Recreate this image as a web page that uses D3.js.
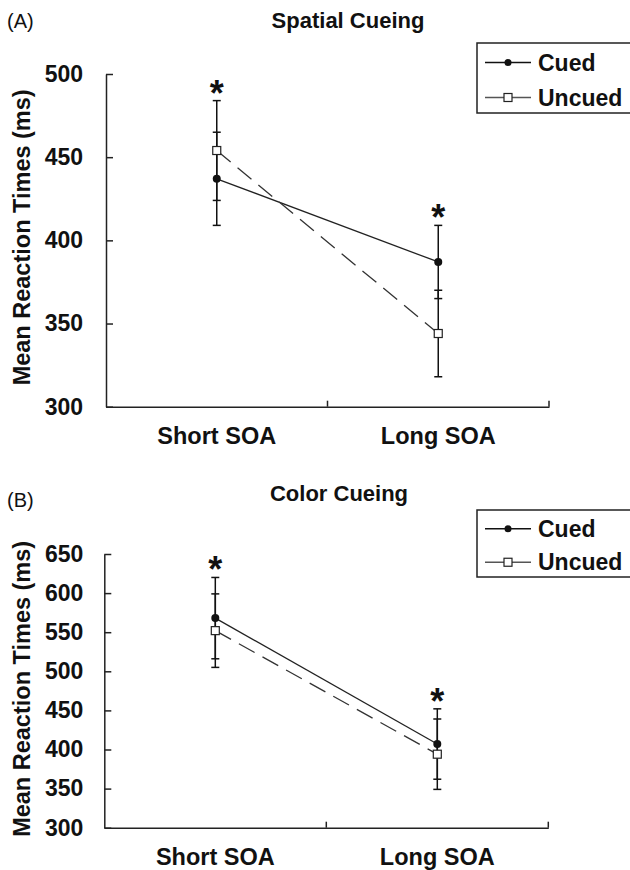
<!DOCTYPE html>
<html>
<head>
<meta charset="utf-8">
<script src="https://cdn.jsdelivr.net/npm/d3@7"></script>
<style>
  body { margin: 0; background: #fff; }
  text { font-family: "Liberation Sans", Arial, sans-serif; fill: #111; }
</style>
</head>
<body>
<div id="chart"></div>
<script>
const WIDTH = 630
const HEIGHT = 870

// values
const conditions = ["Short SOA", "Long SOA"]
const seriesNames = ["Cued", "Uncued"]

const spatialCued = [437, 387]
const spatialCuedErr = [28, 22]
const spatialUncued = [454, 344]
const spatialUncuedErr = [30, 26]
const spatialTicks = [300, 350, 400, 450, 500]

const colorCued = [568, 407]
const colorCuedErr = [52, 45]
const colorUncued = [552, 394]
const colorUncuedErr = [47, 45]
const colorTicks = [300, 350, 400, 450, 500, 550, 600, 650]

const significant = [true, true]

const svg = d3.select('#chart').append('svg')
    .attr('width', WIDTH).attr('height', HEIGHT)
svg.append('rect').attr('width', WIDTH).attr('height', HEIGHT).attr('fill', '#fff')

drawPanel({
    letter: '(A)', title: 'Spatial Cueing', titleX: 348,
    cued: spatialCued, cuedErr: spatialCuedErr,
    uncued: spatialUncued, uncuedErr: spatialUncuedErr,
    ticks: spatialTicks,
    left: 106, right: 549, top: 74, bottom: 406.7, tickPad: 23,
    letterY: 28, titleY: 28, legendTop: 43, legendH: 70, labelY: 21
})

drawPanel({
    letter: '(B)', title: 'Color Cueing', titleX: 339,
    cued: colorCued, cuedErr: colorCuedErr,
    uncued: colorUncued, uncuedErr: colorUncuedErr,
    ticks: colorTicks,
    left: 104.3, right: 548.3, top: 554, bottom: 827.7, tickPad: 21,
    letterY: 507, titleY: 501, legendTop: 510, legendH: 67, labelY: 21
})

function drawPanel(cfg){
    const g = svg.append('g')

    const x = d3.scaleBand().domain(conditions).range([cfg.left, cfg.right]).padding(0)
    const y = d3.scaleLinear()
        .domain([d3.min(cfg.ticks), d3.max(cfg.ticks)])
        .range([cfg.bottom, cfg.top])
    const cx = c => x(c) + x.bandwidth() / 2

    // panel letter and title
    g.append('text').attr('x', 7).attr('y', cfg.letterY)
        .style('font-size', '20px').text(cfg.letter)
    g.append('text').attr('x', cfg.titleX).attr('y', cfg.titleY)
        .attr('text-anchor', 'middle')
        .style('font-size', '22px').style('font-weight', 'bold')
        .text(cfg.title)

    // y axis
    const yAxis = g.append('g')
        .attr('transform', `translate(${cfg.left},0)`)
        .call(d3.axisLeft(y).tickValues(cfg.ticks).tickSizeInner(-7).tickSizeOuter(0).tickPadding(cfg.tickPad))
    yAxis.selectAll('text')
        .style('font-size', '23px').style('font-weight', 'bold')
        .style('font-family', '"Liberation Sans", Arial, sans-serif').attr('fill', '#111')

    // x axis
    const xAxis = g.append('g')
        .attr('transform', `translate(0,${cfg.bottom})`)
        .call(d3.axisBottom(x).tickSize(0).tickSizeOuter(0).tickPadding(cfg.labelY))
    xAxis.selectAll('text')
        .style('font-size', '23.5px').style('font-weight', 'bold')
        .style('font-family', '"Liberation Sans", Arial, sans-serif').attr('fill', '#111')
    xAxis.selectAll('.bound')
        .data(conditions)
        .enter()
        .append('line')
        .attr('class', 'bound')
        .attr('x1', d => x(d) + x.bandwidth()).attr('x2', d => x(d) + x.bandwidth())
        .attr('y1', 0).attr('y2', -6)
        .attr('stroke', '#222')

    g.selectAll('.domain, .tick line').attr('stroke', '#222').attr('stroke-width', 1.5)
    xAxis.selectAll('.bound').attr('stroke-width', 1.5)

    // y axis title
    const midY = (cfg.top + cfg.bottom) / 2
    g.append('text')
        .attr('transform', `translate(30,${midY + (cfg.letter === '(A)' ? -3 : -2)}) rotate(-90)`)
        .attr('text-anchor', 'middle')
        .style('font-size', '23.5px').style('font-weight', 'bold')
        .text('Mean Reaction Times (ms)')

    // lines
    const line = d3.line().x((d, i) => cx(conditions[i])).y(d => y(d))
    g.append('path').datum(cfg.cued).attr('d', line)
        .attr('fill', 'none').attr('stroke', '#222').attr('stroke-width', 1.3)
    g.append('path').datum(cfg.uncued).attr('d', line)
        .attr('fill', 'none').attr('stroke', '#333').attr('stroke-width', 1.3)
        .attr('stroke-dasharray', '18,9')

    // error bars
    const bars = []
    conditions.forEach((c, i) => {
        bars.push({c, v: cfg.cued[i], e: cfg.cuedErr[i]})
        bars.push({c, v: cfg.uncued[i], e: cfg.uncuedErr[i]})
    })
    const eb = g.append('g').attr('stroke', '#111').attr('stroke-width', 1.5)
    eb.selectAll('.stem').data(bars).enter().append('line')
        .attr('x1', d => cx(d.c)).attr('x2', d => cx(d.c))
        .attr('y1', d => y(d.v - d.e)).attr('y2', d => y(d.v + d.e))
    eb.selectAll('.capTop').data(bars).enter().append('line')
        .attr('x1', d => cx(d.c) - 4).attr('x2', d => cx(d.c) + 4)
        .attr('y1', d => y(d.v + d.e)).attr('y2', d => y(d.v + d.e))
    eb.selectAll('.capBot').data(bars).enter().append('line')
        .attr('x1', d => cx(d.c) - 4).attr('x2', d => cx(d.c) + 4)
        .attr('y1', d => y(d.v - d.e)).attr('y2', d => y(d.v - d.e))

    // markers
    g.selectAll('.sq').data(cfg.uncued).enter().append('rect')
        .attr('x', (d, i) => cx(conditions[i]) - 4).attr('y', d => y(d) - 4)
        .attr('width', 8).attr('height', 8)
        .attr('fill', '#fff').attr('stroke', '#222').attr('stroke-width', 1.2)
    g.selectAll('.dot').data(cfg.cued).enter().append('circle')
        .attr('cx', (d, i) => cx(conditions[i])).attr('cy', d => y(d))
        .attr('r', 4).attr('fill', '#111')

    // significance stars above the highest error bar
    conditions.forEach((c, i) => {
        if(!significant[i]) return
        const topVal = Math.max(cfg.cued[i] + cfg.cuedErr[i], cfg.uncued[i] + cfg.uncuedErr[i])
        g.append('text')
            .attr('x', cx(c)).attr('y', y(topVal) + 5)
            .attr('text-anchor', 'middle')
            .style('font-size', '36px').style('font-weight', 'bold')
            .text('*')
    })

    // legend
    const lg = g.append('g').attr('transform', `translate(477,${cfg.legendTop})`)
    lg.append('rect').attr('x', 0).attr('y', 0).attr('width', 160).attr('height', cfg.legendH)
        .attr('fill', '#fff').attr('stroke', '#222').attr('stroke-width', 1.5)
    const rowH = cfg.legendH / 2
    seriesNames.forEach((name, i) => {
        const ry = rowH * i + rowH / 2 + 2
        lg.append('line').attr('x1', 8).attr('x2', 54).attr('y1', ry).attr('y2', ry)
            .attr('stroke', i === 0 ? '#111' : '#555').attr('stroke-width', 1.3)
        if(i === 0){
            lg.append('circle').attr('cx', 31).attr('cy', ry).attr('r', 3.5).attr('fill', '#111')
        }
        else{
            lg.append('rect').attr('x', 27).attr('y', ry - 4).attr('width', 8).attr('height', 8)
                .attr('fill', '#fff').attr('stroke', '#222').attr('stroke-width', 1.2)
        }
        lg.append('text').attr('x', 61).attr('y', ry + 8)
            .style('font-size', '23px').style('font-weight', 'bold')
            .text(name)
    })
}
</script>
</body>
</html>
